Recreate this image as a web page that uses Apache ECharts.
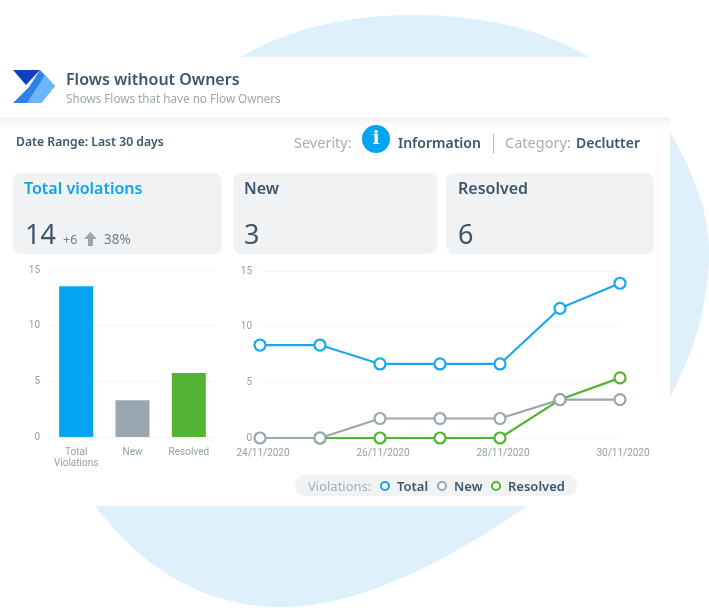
<!DOCTYPE html>
<html><head><meta charset="utf-8">
<style>html,body{margin:0;padding:0;background:#fff}#c{width:709px;height:610px}</style>
<script src="https://cdn.jsdelivr.net/npm/echarts@6/dist/echarts.min.js"></script>
</head><body><div id="c"></div>
<script>
const barCategories = ['Total\nViolations', 'New', 'Resolved'];
const barValues = [13.55, 3.3, 5.75];
const barColors = ['#05a4f0', '#9aa7b0', '#53b332'];
const dates = ['24/11/2020','25/11/2020','26/11/2020','27/11/2020','28/11/2020','29/11/2020','30/11/2020'];
const totalSeries = [8.35, 8.35, 6.65, 6.65, 6.65, 11.65, 13.9];
const newSeries = [0, 0, 1.75, 1.75, 1.75, 3.45, 3.45];
const resolvedSeries = [null, 0, 0, 0, 0, 3.45, 5.4];

const dark = '#3e566b', grey = '#a3afb9', axisC = '#93a0ab';
const uiFont = '"Noto Sans"', axFont = 'Roboto';
const BLUE = '#def0fb';

echarts.graphic.registerShape('blob', echarts.graphic.extendShape({
  shape:{},
  buildPath(ctx){
    ctx.moveTo(241,57);
    ctx.bezierCurveTo(290,28,350,15,413,15);
    ctx.bezierCurveTo(480,15,540,28,589,57);
    ctx.lineTo(670,132);
    ctx.bezierCurveTo(695,175,709,215,709,253);
    ctx.bezierCurveTo(709,300,695,350,670,397);
    ctx.lineTo(527,506);
    ctx.bezierCurveTo(450,560,360,607,283,607);
    ctx.bezierCurveTo(200,607,140,565,95,506);
    ctx.closePath();
  }
}));

function txt(x, y, text, size, fill, weight, align) {
  return {type:'text', x, y, z:5, style:{text, fontSize:size, fontFamily:uiFont, fontWeight:weight||'normal', fill, textAlign:align||'left', textVerticalAlign:'middle'}};
}
function card(x, y, w, h) {
  return {type:'rect', z:3, shape:{x,y,width:w,height:h,r:8}, style:{fill:'#f0f2f4'}};
}
const graphics = [
  {type:'blob', z:0, style:{fill:BLUE}},
  {type:'rect', z:0, shape:{x:0,y:57,width:670,height:449}, style:{fill:'#fff'}},
  {type:'rect', z:0, shape:{x:0,y:117,width:670,height:12}, style:{fill:new echarts.graphic.LinearGradient(0,0,0,1,[{offset:0,color:'#f0f3f5'},{offset:1,color:'#ffffff'}])}},
  {type:'polygon', z:4, shape:{points:[[13,70],[40,70],[26,85]]}, style:{fill:'#0f3fc0'}},
  {type:'polygon', z:4, shape:{points:[[40,70],[55,86],[41,103],[13,103],[29,87]]}, style:{fill:'#2f80ed'}},
  {type:'polygon', z:4, shape:{points:[[45,75],[55,86],[41,103],[27,103]]}, style:{fill:'#6cb6ff'}},
  txt(66,80,'Flows without Owners',16,dark,'600'),
  txt(66,100,'Shows Flows that have no Flow Owners',11.7,'#9aa7b1'),
  txt(16,143,'Date Range: Last 30 days',12.2,dark,'600'),
  txt(294,144,'Severity:',14.5,grey),
  {type:'circle', z:4, shape:{cx:376,cy:139,r:14}, style:{fill:'#05a4f0'}},
  {type:'text', z:5, x:376, y:139, style:{text:'i',fontSize:19,fontWeight:'bold',fontFamily:'"DejaVu Serif"',fill:'#fff',textAlign:'center',textVerticalAlign:'middle'}},
  txt(398,144,'Information',14,dark,'600'),
  {type:'rect', z:4, shape:{x:493,y:134,width:1,height:19}, style:{fill:'#a9b5be'}},
  txt(505,144,'Category:',14.5,grey),
  txt(576,144,'Declutter',14,dark,'600'),
  card(13,173,209,81), card(233,173,204,81), card(446,173,208,81),
  txt(24,189,'Total violations',16,'#0ea5e9','600'),
  txt(25,236,'14',27,dark),
  txt(63,240,'+6',12.5,'#6d7f8d'),
  {type:'polygon', z:5, shape:{points:[[84,239],[90.5,232],[97,239],[93,239],[93,246],[88,246],[88,239]]}, style:{fill:'#9aa7b0'}},
  txt(104,240,'38%',13.5,'#6d7f8d'),
  txt(244,189,'New',16,dark,'600'),
  txt(244,236,'3',27,dark),
  txt(458,189,'Resolved',16,dark,'600'),
  txt(458,236,'6',27,dark),
  {type:'rect', z:3, shape:{x:295,y:475,width:282,height:21,r:10}, style:{fill:'#f0f2f4'}},
  txt(308,487,'Violations:',13,grey),
  {type:'circle', z:5, shape:{cx:385,cy:486,r:4}, style:{fill:'#fff',stroke:'#0ea5e9',lineWidth:2}},
  txt(397,487,'Total',13,dark,'600'),
  {type:'circle', z:5, shape:{cx:442,cy:486,r:4}, style:{fill:'#fff',stroke:'#9aa7b0',lineWidth:2}},
  txt(454,487,'New',13,dark,'600'),
  {type:'circle', z:5, shape:{cx:496,cy:486,r:4}, style:{fill:'#fff',stroke:'#53b332',lineWidth:2}},
  txt(508,487,'Resolved',13,dark,'600')
];
function lineSeries(name, data, color, z) {
  return {name, type:'line', xAxisIndex:1, yAxisIndex:1, data, z, symbol:'circle', symbolSize:11, showSymbol:true,
    lineStyle:{color, width:2.2}, itemStyle:{color:'#fff', borderColor:color, borderWidth:2.2}, animation:false, connectNulls:false};
}
const yAxisBase = {type:'value', min:0, max:15, interval:5, z:2, axisLine:{show:false}, axisTick:{show:false},
  splitLine:{lineStyle:{color:'#f5f6f7',width:1}}, axisLabel:{color:axisC,fontSize:10,fontFamily:axFont,margin:8,padding:[2,0,0,0]}};
const chart = echarts.init(document.getElementById('c'));
chart.setOption({
  animation:false,
  backgroundColor:'#fff',
  grid:[{left:48,top:270,width:169,height:167},{left:260,top:271,width:360,height:167}],
  xAxis:[
    {type:'category',gridIndex:0,z:2,data:barCategories,axisLine:{show:false},axisTick:{show:false},
     axisLabel:{color:axisC,fontSize:10,fontFamily:axFont,margin:10,lineHeight:11,interval:0}},
    {type:'category',gridIndex:1,z:2,data:dates,boundaryGap:false,axisLine:{show:false},axisTick:{show:false},
     axisLabel:{color:axisC,fontSize:10,fontFamily:axFont,margin:10,interval:1,hideOverlap:false,showMaxLabel:true,padding:[0,0,0,6]}}
  ],
  yAxis:[Object.assign({gridIndex:0},yAxisBase),Object.assign({gridIndex:1},yAxisBase)],
  series:[
    {type:'bar',xAxisIndex:0,yAxisIndex:0,barWidth:34,z:4,animation:false,
     data:barValues.map((v,i)=>({value:v,itemStyle:{color:barColors[i]}}))},
    lineSeries('Resolved',resolvedSeries,'#53b332',4),
    lineSeries('Total',totalSeries,'#1aa7ee',5),
    lineSeries('New',newSeries,'#9aa7b0',6)
  ],
  graphic:{elements:graphics}
});
</script></body></html>
